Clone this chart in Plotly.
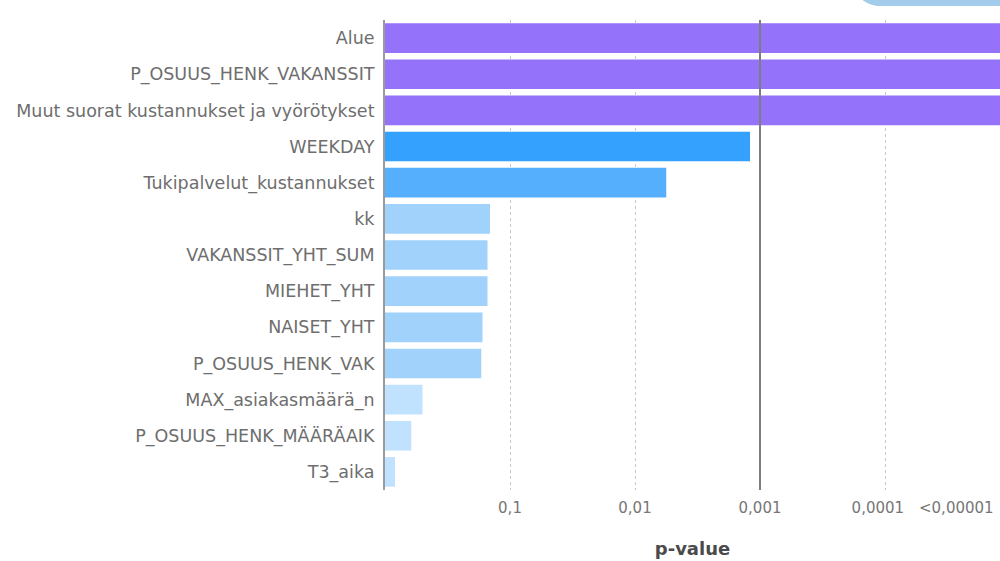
import plotly.graph_objects as go

categories = [
    "Alue",
    "P_OSUUS_HENK_VAKANSSIT",
    "Muut suorat kustannukset ja vyörötykset",
    "WEEKDAY",
    "Tukipalvelut_kustannukset",
    "kk",
    "VAKANSSIT_YHT_SUM",
    "MIEHET_YHT",
    "NAISET_YHT",
    "P_OSUUS_HENK_VAK",
    "MAX_asiakasmäärä_n",
    "P_OSUUS_HENK_MÄÄRÄAIK",
    "T3_aika",
]
# -log10(p-value)
neg_log_p = [6.0, 6.0, 6.0, 2.92, 2.25, 0.84, 0.82, 0.82, 0.78, 0.77, 0.30, 0.21, 0.08]

tick_vals = [1, 2, 3, 4]
tick_text = ["0,1", "0,01", "0,001", "0,0001\u00a0\u00a0\u00a0"]
last_tick_label = "<0,00001"
threshold = 3  # p = 0.001

FONT = "DejaVu Sans"


def bar_color(v):
    if v >= 3:
        return "#9472fa"
    if v >= 2.5:
        return "#33a1fd"
    if v >= 2:
        return "#56affc"
    if v >= 0.5:
        return "#a0d2fc"
    return "#c0e2fe"


colors = [bar_color(v) for v in neg_log_p]

fig = go.Figure(
    go.Bar(
        x=neg_log_p,
        y=categories,
        orientation="h",
        marker=dict(color=colors, line=dict(width=0)),
        showlegend=False,
        hoverinfo="skip",
    )
)

fig.update_layout(
    width=1000,
    height=561,
    margin=dict(l=385, r=0, t=20, b=71),
    paper_bgcolor="white",
    plot_bgcolor="white",
    bargap=0.18,
    font=dict(family=FONT, color="#6e6e6e"),
    xaxis=dict(
        range=[0, 4.92],
        tickvals=tick_vals,
        ticktext=tick_text,
        showgrid=True,
        gridcolor="#c8c8c8",
        griddash="dot",
        gridwidth=1,
        zeroline=False,
        showline=False,
        ticks="",
        ticklabelstandoff=7,
        tickfont=dict(size=15, color="#767676", family=FONT),
        title=dict(text="<b>p-value</b>", font=dict(size=18, color="#4a4a4a", family=FONT), standoff=26),
        fixedrange=True,
    ),
    yaxis=dict(
        autorange="reversed",
        showgrid=False,
        zeroline=False,
        showline=True,
        linecolor="#9a9a9a",
        linewidth=2,
        ticks="",
        ticklabelstandoff=5,
        tickfont=dict(size=17.5, color="#6e6e6e", family=FONT),
        fixedrange=True,
    ),
    shapes=[
        dict(
            type="line",
            xref="x",
            yref="paper",
            x0=threshold,
            x1=threshold,
            y0=0,
            y1=1,
            line=dict(color="#7d7d7d", width=2),
            layer="above",
        ),
        dict(
            type="path",
            xref="paper",
            yref="paper",
            path="M 0.776 1.043 Q 0.785 1.033 0.80 1.030 L 1.0 1.030 L 1.0 1.043 Z",
            fillcolor="#a3cbea",
            line=dict(width=0),
            layer="above",
        ),
    ],
    annotations=[
        dict(
            text=last_tick_label,
            xref="paper",
            yref="paper",
            x=0.993,
            y=0,
            xanchor="right",
            yanchor="top",
            yshift=-7,
            showarrow=False,
            font=dict(size=15, color="#767676", family=FONT),
        )
    ],
)

fig.write_html(
    "out.html",
    config={"displayModeBar": False},
    post_script="document.body.style.margin='0';document.body.style.overflow='hidden';",
)
